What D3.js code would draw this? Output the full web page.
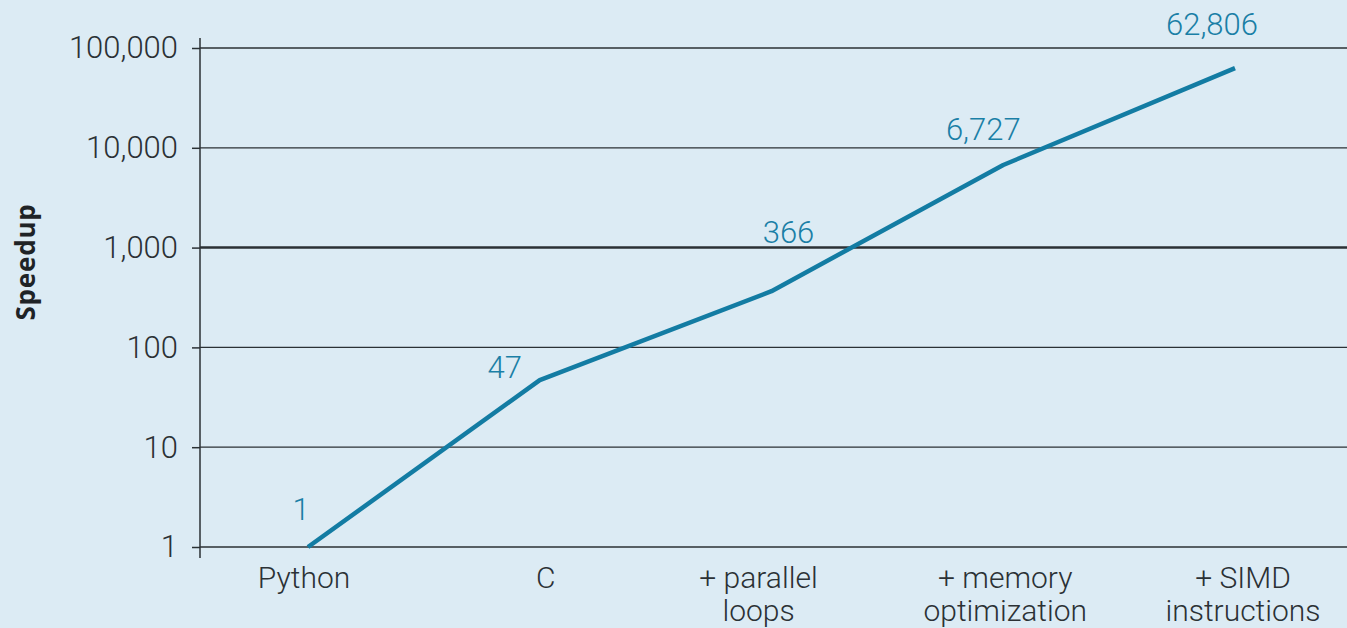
<!DOCTYPE html>
<html>
<head>
<meta charset="utf-8">
<script src="https://cdn.jsdelivr.net/npm/d3@7/dist/d3.min.js"></script>
<style>
  html, body { margin: 0; padding: 0; background: #dcebf4; }
  svg { display: block; }
</style>
</head>
<body>
<svg id="chart" width="1347" height="628"></svg>
<script>
// Speedup of each optimization stage (log scale)
const stages = ["Python", "C", "+ parallel\nloops", "+ memory\noptimization", "+ SIMD\ninstructions"];
const speedup = [1, 47, 366, 6727, 62806];
const yTicks = [1, 10, 100, 1000, 10000, 100000];
const yTickLabels = ["1", "10", "100", "1,000", "10,000", "100,000"];
const valueLabels = ["1", "47", "366", "6,727", "62,806"];

// Where each value label sits relative to its point
const labelOffset = [[-7, -27], [-35, -2], [17, -48], [-20, -25], [-23, -33]];
// Horizontal nudge of each category label
const catShift = [-4, 6, -13, 2, 8];

const W = 1347, H = 628;
const svg = d3.select("#chart");
const axisX = 200;
const font = "Roboto, sans-serif";

const x = d3.scalePoint().domain(stages).range([308, 1235]);
const y = d3.scaleLog().domain([1, 100000]).range([547, 48]);

const lineColor = "#137ca3";
const gridColor = "#2b3135";

// Tick marks and labels to the left of the axis
const yAxis = d3.axisLeft(y)
  .tickValues(yTicks)
  .tickFormat((d, i) => yTickLabels[i])
  .tickSize(8)
  .tickPadding(14);

const gy = svg.append("g")
  .attr("transform", `translate(${axisX},0)`)
  .call(yAxis);
gy.select(".domain").remove();
gy.selectAll(".tick line").attr("stroke", gridColor).attr("stroke-width", 1.5);
gy.selectAll(".tick text")
  .style("font-family", font)
  .style("font-size", "31px")
  .style("font-weight", 300)
  .attr("fill", "#2b3135");

// Horizontal gridlines
svg.append("g").selectAll("line")
  .data(yTicks)
  .join("line")
  .attr("x1", axisX).attr("x2", W)
  .attr("y1", d => y(d)).attr("y2", d => y(d))
  .attr("stroke", gridColor)
  .attr("stroke-width", d => d === 1000 ? 2.5 : 1.3);

// Vertical axis line
svg.append("line")
  .attr("x1", axisX).attr("x2", axisX)
  .attr("y1", y(100000) - 10).attr("y2", y(1) + 11)
  .attr("stroke", gridColor).attr("stroke-width", 1.5);

// Category labels (two lines where needed)
const xl = svg.append("g").selectAll("text")
  .data(stages)
  .join("text")
  .attr("y", 588)
  .attr("text-anchor", "middle")
  .style("font-family", font)
  .style("font-size", "30px")
  .style("font-weight", 300)
  .attr("fill", "#2b3135");
xl.each(function(d, i) {
  const parts = d.split("\n");
  d3.select(this).selectAll("tspan")
    .data(parts)
    .join("tspan")
    .attr("x", x(d) + catShift[i])
    .attr("dy", (p, j) => j === 0 ? 0 : 33)
    .text(p => p);
});

// Y axis title
svg.append("text")
  .attr("transform", "translate(35,262) rotate(-90)")
  .attr("text-anchor", "middle")
  .style("font-family", "'Open Sans', sans-serif")
  .style("font-size", "26px")
  .style("font-weight", 700)
  .style("letter-spacing", "0.8px")
  .attr("fill", "#1f2326")
  .text("Speedup");

// Speedup line
const pts = stages.map((s, i) => [x(s), y(speedup[i])]);
svg.append("path")
  .datum(pts)
  .attr("d", d3.line())
  .attr("fill", "none")
  .attr("stroke", lineColor)
  .attr("stroke-width", 4.5)
  .attr("stroke-linejoin", "round");

// Value labels
svg.append("g").selectAll("text")
  .data(stages)
  .join("text")
  .attr("x", (d, i) => x(d) + labelOffset[i][0])
  .attr("y", (d, i) => y(speedup[i]) + labelOffset[i][1])
  .attr("text-anchor", "middle")
  .style("font-family", font)
  .style("font-size", "31px")
  .style("font-weight", 300)
  .attr("fill", "#1a7fa6")
  .text((d, i) => valueLabels[i]);
</script>
</body>
</html>
